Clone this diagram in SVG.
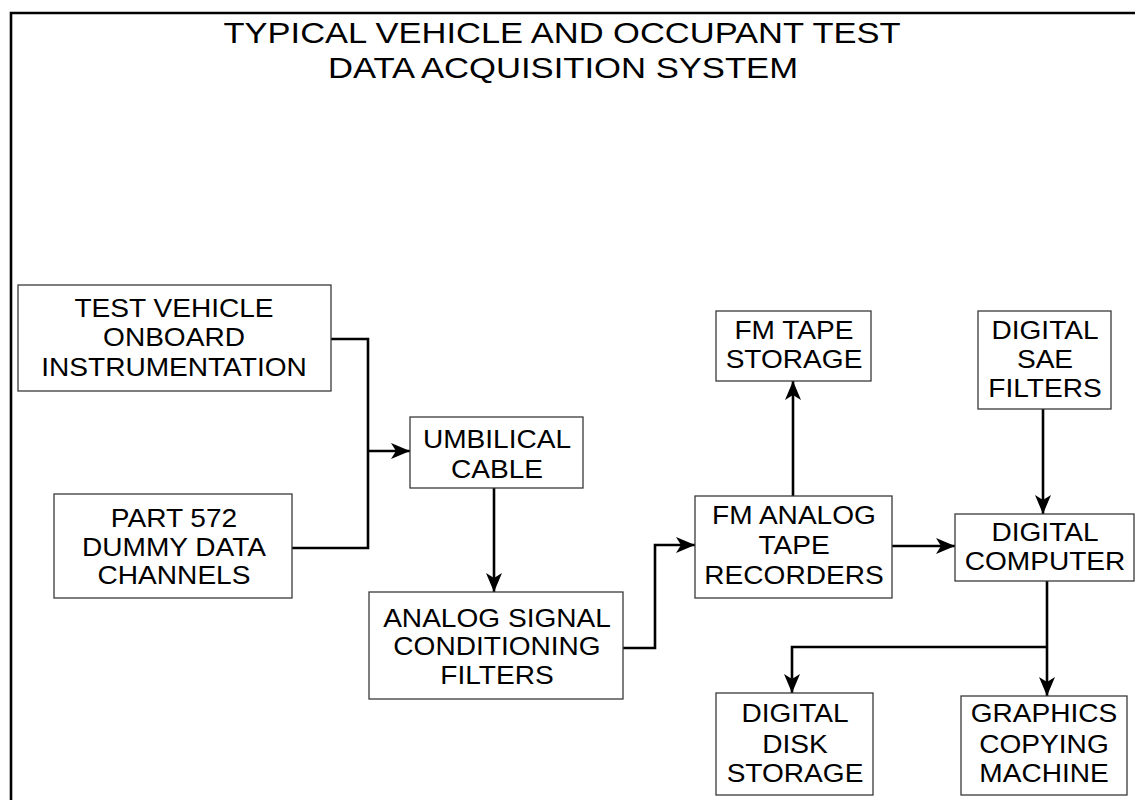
<svg xmlns="http://www.w3.org/2000/svg" width="1135" height="800" viewBox="0 0 1135 800">
<defs>
<style>
.box{fill:#fff;stroke:#3a3a3a;stroke-width:1.3}
.lbl{font-family:"Liberation Sans",Arial,sans-serif;font-size:26px;fill:#000;text-anchor:middle}
.title{font-family:"Liberation Sans",Arial,sans-serif;font-size:30px;fill:#000;text-anchor:middle}
.wire{fill:none;stroke:#000;stroke-width:2.6}
.frame{fill:none;stroke:#000;stroke-width:2.6}
</style>
<marker id="ah" viewBox="-20 -9 21 18" refX="0" refY="0" markerWidth="21" markerHeight="18" markerUnits="userSpaceOnUse" orient="auto">
<path d="M0,0 L-19,-8 L-14,0 L-19,8 Z" fill="#000"/>
</marker>
</defs>
<rect width="1135" height="800" fill="#fff"/>
<path class="frame" d="M11,800 V13 H1135"/>
<g id="title">
<text class="title" x="562" y="43" textLength="677" lengthAdjust="spacingAndGlyphs">TYPICAL VEHICLE AND OCCUPANT TEST</text>
<text class="title" x="563" y="78" textLength="470" lengthAdjust="spacingAndGlyphs">DATA ACQUISITION SYSTEM</text>
</g>
<g id="connectors">
<path class="wire" d="M331,339 H368 V548 H292"/>
<path class="wire" d="M368,451 H410" marker-end="url(#ah)"/>
<path class="wire" d="M494,488 V592" marker-end="url(#ah)"/>
<path class="wire" d="M623,648 H655 V545 H695" marker-end="url(#ah)"/>
<path class="wire" d="M793,496 V381" marker-end="url(#ah)"/>
<path class="wire" d="M1043,409 V514" marker-end="url(#ah)"/>
<path class="wire" d="M892,546 H955" marker-end="url(#ah)"/>
<path class="wire" d="M1047,581 V696" marker-end="url(#ah)"/>
<path class="wire" d="M1047,647 H792 V693" marker-end="url(#ah)"/>
</g>
<g id="test-vehicle">
<rect class="box" x="18" y="285" width="313" height="106"/>
<text class="lbl" transform="matrix(1.08 0 0 1 174 0)"><tspan x="0" y="317">TEST VEHICLE</tspan><tspan x="0" y="346">ONBOARD</tspan><tspan x="0" y="376">INSTRUMENTATION</tspan></text>
</g>
<g id="part-572">
<rect class="box" x="54" y="494" width="238" height="104"/>
<text class="lbl" transform="matrix(1.08 0 0 1 174 0)"><tspan x="0" y="527">PART 572</tspan><tspan x="0" y="556">DUMMY DATA</tspan><tspan x="0" y="584">CHANNELS</tspan></text>
</g>
<g id="umbilical">
<rect class="box" x="410" y="417" width="173" height="71"/>
<text class="lbl" transform="matrix(1.08 0 0 1 497 0)"><tspan x="0" y="448">UMBILICAL</tspan><tspan x="0" y="478">CABLE</tspan></text>
</g>
<g id="analog-signal">
<rect class="box" x="369" y="592" width="254" height="107"/>
<text class="lbl" transform="matrix(1.08 0 0 1 497 0)"><tspan x="0" y="627">ANALOG SIGNAL</tspan><tspan x="0" y="655">CONDITIONING</tspan><tspan x="0" y="684">FILTERS</tspan></text>
</g>
<g id="fm-analog">
<rect class="box" x="695" y="496" width="197" height="102"/>
<text class="lbl" transform="matrix(1.08 0 0 1 794 0)"><tspan x="0" y="524">FM ANALOG</tspan><tspan x="0" y="554">TAPE</tspan><tspan x="0" y="584">RECORDERS</tspan></text>
</g>
<g id="fm-tape">
<rect class="box" x="716" y="311" width="155" height="70"/>
<text class="lbl" transform="matrix(1.08 0 0 1 794 0)"><tspan x="0" y="339">FM TAPE</tspan><tspan x="0" y="368">STORAGE</tspan></text>
</g>
<g id="digital-sae">
<rect class="box" x="978" y="311" width="133" height="98"/>
<text class="lbl" transform="matrix(1.08 0 0 1 1045 0)"><tspan x="0" y="339">DIGITAL</tspan><tspan x="0" y="368">SAE</tspan><tspan x="0" y="397">FILTERS</tspan></text>
</g>
<g id="digital-computer">
<rect class="box" x="955" y="514" width="179" height="67"/>
<text class="lbl" transform="matrix(1.08 0 0 1 1045 0)"><tspan x="0" y="541">DIGITAL</tspan><tspan x="0" y="570">COMPUTER</tspan></text>
</g>
<g id="digital-disk">
<rect class="box" x="716" y="693" width="157" height="102"/>
<text class="lbl" transform="matrix(1.08 0 0 1 795 0)"><tspan x="0" y="722">DIGITAL</tspan><tspan x="0" y="753">DISK</tspan><tspan x="0" y="782">STORAGE</tspan></text>
</g>
<g id="graphics">
<rect class="box" x="961" y="696" width="166" height="99"/>
<text class="lbl" transform="matrix(1.08 0 0 1 1044 0)"><tspan x="0" y="722">GRAPHICS</tspan><tspan x="0" y="753">COPYING</tspan><tspan x="0" y="782">MACHINE</tspan></text>
</g>
</svg>
